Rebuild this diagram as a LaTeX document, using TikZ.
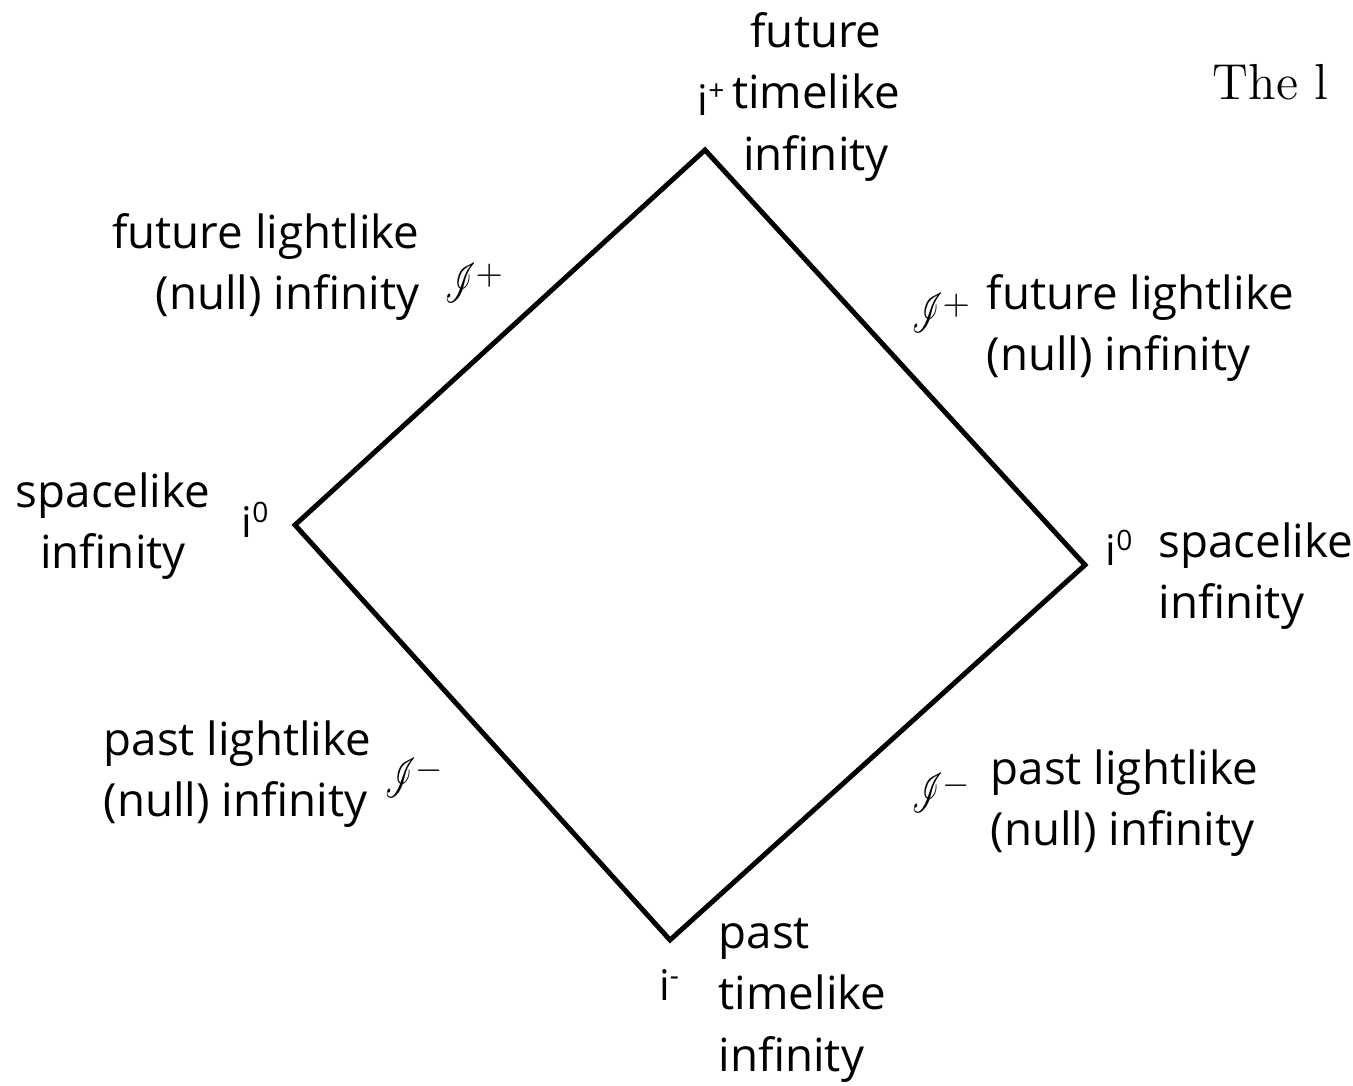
\documentclass[tikz,border=0pt]{standalone}
\usepackage{fontspec}
\usepackage{amsmath}
\usepackage{mathrsfs}
\usepackage{tikz}
\newfontfamily\handfont{Open Sans}
\newcommand{\scrisym}[1]{\scalebox{0.6}[1.1]{$\mathscr{I}$}$^{#1}$}

\begin{document}
\begin{tikzpicture}[
    x=1cm, y=1cm,
    edge/.style={draw, line width=1.4pt, line join=miter},
    lbl/.style={font=\handfont\fontsize{13}{17.5}\selectfont, inner sep=0pt},
    pt/.style={font=\handfont\fontsize{12}{14}\selectfont, inner sep=0pt},
    scri/.style={font=\fontsize{14}{16}\selectfont, inner sep=0pt}
]
    \useasboundingbox (0,0) rectangle (13.53,10.86);

    % Corners of the diagram
    \coordinate (top) at (7.05,9.36);
    \coordinate (left) at (2.95,5.61);
    \coordinate (right) at (10.85,5.21);
    \coordinate (bottom) at (6.70,1.46);

    % Edges
    \draw[edge] (top) -- (right) -- (bottom) -- (left) -- cycle;

    % Timelike infinities
    \node[pt] (iplus) at (7.12,9.86) {i\textsuperscript{+}};
    \node[lbl, align=center] (futtime) at (8.16,9.89) {future\\timelike\\infinity};
    \node[pt] (iminus) at (6.70,1.01) {i\textsuperscript{-}};
    \node[lbl, align=left, anchor=west] (pasttime) at (7.18,0.86) {past\\timelike\\infinity};

    % Spacelike infinities
    \node[pt] (izerol) at (2.56,5.66) {i\textsuperscript{0}};
    \node[lbl, align=center] (spacel) at (1.13,5.60) {spacelike\\infinity};
    \node[pt] (izeror) at (11.20,5.38) {i\textsuperscript{0}};
    \node[lbl, align=left, anchor=west] (spacer) at (11.58,5.10) {spacelike\\infinity};

    % Future null infinities
    \node[scri] (scriful) at (4.75,8.03) {\scrisym{+}};
    \node[lbl, align=right, anchor=east] (futnulll) at (4.20,8.19) {future lightlike\\(null) infinity};
    \node[scri] (scrifur) at (9.42,7.73) {\scrisym{+}};
    \node[lbl, align=left, anchor=west] (futnullr) at (9.86,7.58) {future lightlike\\(null) infinity};

    % Past null infinities
    \node[scri] (scripal) at (4.15,3.08) {\scrisym{-}};
    \node[lbl, align=left, anchor=west] (pastnulll) at (1.03,3.12) {past lightlike\\(null) infinity};
    \node[scri] (scripar) at (9.42,2.93) {\scrisym{-}};
    \node[lbl, align=left, anchor=west] (pastnullr) at (9.90,2.83) {past lightlike\\(null) infinity};

    % Clipped caption
    \node[font=\Large, anchor=base west, inner sep=0pt] (caption) at (12.12,9.86) {The l};
\end{tikzpicture}
\end{document}
